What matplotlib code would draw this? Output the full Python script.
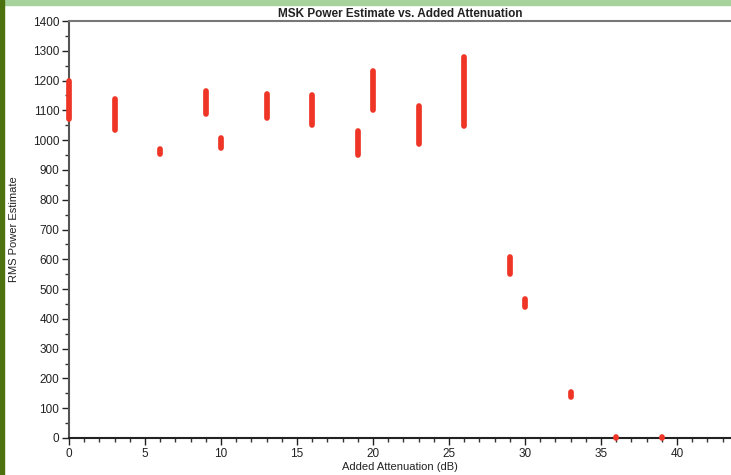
import matplotlib.pyplot as plt
from matplotlib.patches import Rectangle
from matplotlib.ticker import MultipleLocator

plt.rcParams['font.family'] = ['Liberation Sans', 'DejaVu Sans']

# Added attenuation (dB) and the spread of RMS power estimates at each step
attenuation = [0, 3, 6, 9, 10, 13, 16, 19, 20, 23, 26, 29, 30, 33, 36, 39]
power_low = [1070, 1035, 952, 1087, 975, 1075, 1050, 950, 1100, 987, 1047, 550, 440, 137, 0, 0]
power_high = [1197, 1138, 970, 1165, 1008, 1155, 1150, 1032, 1232, 1115, 1280, 607, 465, 155, 3, 3]

red = '#ee3526'

fig = plt.figure(figsize=(7.31, 4.75), dpi=100)
ax = fig.add_axes([69 / 731, 1 - 438 / 475, 1 - 69 / 731, (438 - 21) / 475])

for x, lo, hi in zip(attenuation, power_low, power_high):
    ax.plot([x, x], [lo, hi], color=red, lw=4.1, solid_capstyle='round',
            clip_on=False, zorder=3)

ax.set_xlim(0, 43.55)
ax.set_ylim(0, 1400)
ax.xaxis.set_major_locator(MultipleLocator(5))
ax.xaxis.set_minor_locator(MultipleLocator(1))
ax.yaxis.set_major_locator(MultipleLocator(100))
ax.yaxis.set_minor_locator(MultipleLocator(50))
ax.tick_params(which='major', direction='out', length=5, width=1,
               labelsize=8.5, colors='#222222', pad=2)
ax.tick_params(which='minor', direction='out', length=3, width=1, colors='#333333')

ax.spines['right'].set_visible(False)
ax.spines['top'].set_color('#777777')
ax.spines['top'].set_linewidth(1.5)
ax.spines['left'].set_color('#555555')
ax.spines['left'].set_linewidth(1.5)
ax.spines['bottom'].set_color('#222222')
ax.spines['bottom'].set_linewidth(1.5)

ax.set_xlabel('Added Attenuation (dB)', fontsize=8, color='#222222', labelpad=2)
ax.set_ylabel('RMS Power Estimate', fontsize=8, color='#222222')
ax.yaxis.set_label_coords(-50 / 662, 0.5)
ax.set_title('MSK Power Estimate vs. Added Attenuation', fontsize=8.5,
             fontweight='bold', color='#222222', pad=3)

# page decorations: green band at top, dark green strip at left
fig.patches.append(Rectangle((0, 1 - 5 / 475), 1, 5 / 475, transform=fig.transFigure,
                             color='#a6d39b', zorder=0))
fig.patches.append(Rectangle((0, 0), 4 / 731, 1, transform=fig.transFigure,
                             color='#4b720e', zorder=0))

fig.savefig('out.png', dpi=100)
